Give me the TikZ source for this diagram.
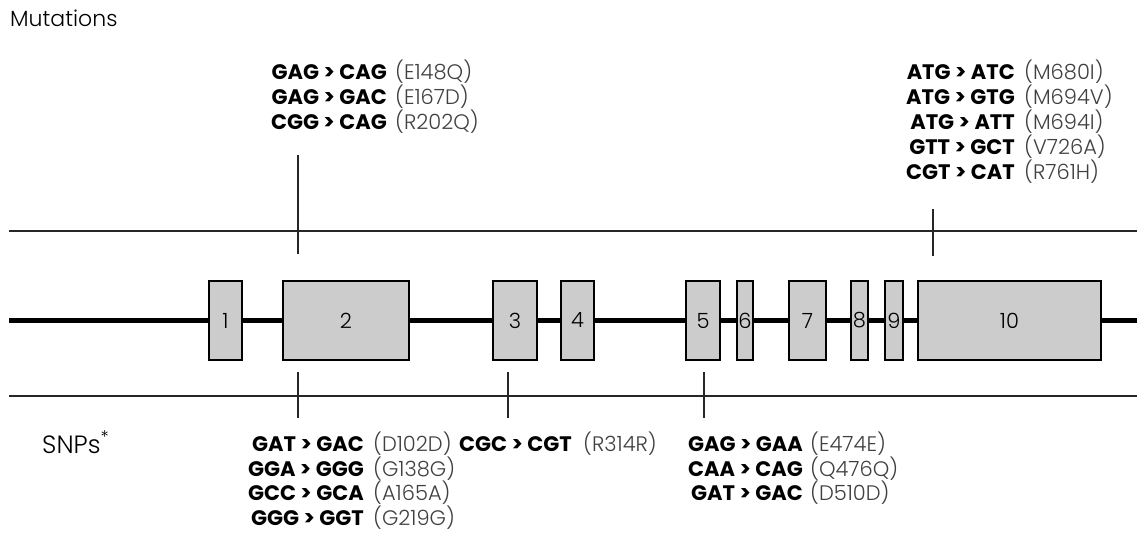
\documentclass[tikz,border=0pt]{standalone}
\usepackage{fontspec}
\setmainfont{Poppins}
\newfontfamily\lightfont{Poppins Light}
\definecolor{exongrey}{HTML}{CCCCCC}
\tikzset{
  exon/.style={draw, line width=1.5pt, fill=exongrey, inner sep=0pt,
    minimum height=79pt, font=\fontsize{21}{21}\lightfont},
  gene/.style={line width=5pt},
  rule/.style={line width=1.3pt, draw=black!85},
  tick/.style={line width=1.3pt, draw=black!85},
  change/.style={font=\fontsize{21}{21}\selectfont\bfseries, anchor=base east, inner sep=0pt},
  aacode/.style={font=\fontsize{21}{21}\lightfont, text=black!75, anchor=base west, inner sep=0pt},
  title/.style={font=\fontsize{22}{22}\lightfont, anchor=base west, inner sep=0pt}
}
\begin{document}
\begin{tikzpicture}[x=1pt, y=-1pt]
        \useasboundingbox (0,0) rectangle (1137,548);

        % section titles
        \node [title] (mut) at (10, 27) {Mutations};
        \node [title, font=\fontsize{25}{25}\lightfont] (snp) at (42, 453) {SNPs\textsuperscript{*}};

        % rules above and below the gene
        \coordinate (ra) at (9, 231);  \coordinate (rb) at (1137, 231);
        \coordinate (rc) at (9, 396);  \coordinate (rd) at (1137, 396);
        \draw [rule] (ra) -- (rb);
        \draw [rule] (rc) -- (rd);

        % gene backbone
        \coordinate (gl) at (9, 320.5);  \coordinate (gr) at (1137, 320.5);
        \draw [gene] (gl) -- (gr);

        % exons
        \node [exon, minimum width=33pt]  (e1)  at (225.5, 320.5) {1};
        \node [exon, minimum width=126pt] (e2)  at (346, 320.5)   {2};
        \node [exon, minimum width=44pt]  (e3)  at (515, 320.5)   {3};
        \node [exon, minimum width=33pt]  (e4)  at (577.5, 320.5) {4};
        \node [exon, minimum width=34pt]  (e5)  at (703, 320.5)   {5};
        \node [exon, minimum width=16pt]  (e6)  at (745, 320.5)   {6};
        \node [exon, minimum width=37pt]  (e7)  at (807.5, 320.5) {7};
        \node [exon, minimum width=17pt]  (e8)  at (859.5, 320.5) {8};
        \node [exon, minimum width=18pt]  (e9)  at (894, 320.5)   {9};
        \node [exon, minimum width=183pt] (e10) at (1009.5, 320.5) {10};

        % mutation ticks
        \coordinate (m1a) at (298, 155);  \coordinate (m1b) at (298, 254);
        \coordinate (m2a) at (933, 209);  \coordinate (m2b) at (933, 256);
        \draw [tick] (m1a) -- (m1b);
        \draw [tick] (m2a) -- (m2b);

        % SNP ticks
        \coordinate (s1a) at (298, 372);  \coordinate (s1b) at (298, 418);
        \coordinate (s2a) at (508, 372);  \coordinate (s2b) at (508, 418);
        \coordinate (s3a) at (704, 372);  \coordinate (s3b) at (704, 418);
        \draw [tick] (s1a) -- (s1b);
        \draw [tick] (s2a) -- (s2b);
        \draw [tick] (s3a) -- (s3b);

        % mutations, exon 2
        \foreach \b/\p [count=\i] in {{GAG > CAG}/{(E148Q)}, {GAG > GAC}/{(E167D)}, {CGG > CAG}/{(R202Q)}} {
            \node [change] (ma\i) at (387, 55+25*\i) {\b};
            \node [aacode] (pa\i) at (395, 55+25*\i) {\p};
        }

        % mutations, exon 10
        \foreach \b/\p [count=\i] in {{ATG > ATC}/{(M680I)}, {ATG > GTG}/{(M694V)}, {ATG > ATT}/{(M694I)},
                                      {GTT > GCT}/{(V726A)}, {CGT > CAT}/{(R761H)}} {
            \node [change] (mb\i) at (1015, 55+25*\i) {\b};
            \node [aacode] (pb\i) at (1024, 55+25*\i) {\p};
        }

        % SNPs, exon 2
        \foreach \b/\p [count=\i] in {{GAT > GAC}/{(D102D)}, {GGA > GGG}/{(G138G)}, {GCC > GCA}/{(A165A)}, {GGG > GGT}/{(G219G)}} {
            \node [change] (sa\i) at (364, 427+24.5*\i) {\b};
            \node [aacode] (qa\i) at (373, 427+24.5*\i) {\p};
        }

        % SNP, exon 3
        \node [change] (sb1) at (572, 451.5) {CGC > CGT};
        \node [aacode] (qb1) at (583, 451.5) {(R314R)};

        % SNPs, exon 5
        \foreach \b/\p [count=\i] in {{GAG > GAA}/{(E474E)}, {CAA > CAG}/{(Q476Q)}, {GAT > GAC}/{(D510D)}} {
            \node [change] (sc\i) at (803, 427+24.5*\i) {\b};
            \node [aacode] (qc\i) at (810, 427+24.5*\i) {\p};
        }
\end{tikzpicture}
\end{document}
